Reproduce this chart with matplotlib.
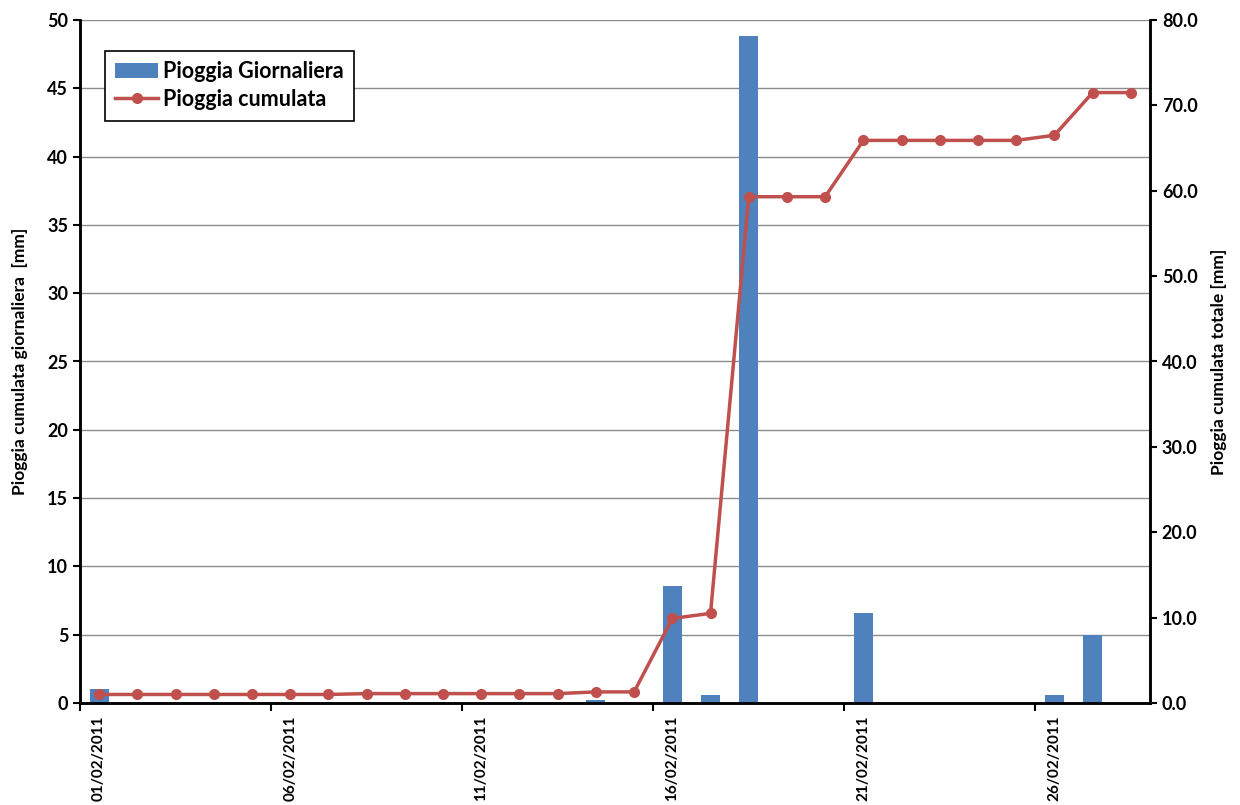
import matplotlib.pyplot as plt
import numpy as np

plt.rcParams['font.family'] = ['Lato', 'DejaVu Sans']
plt.rcParams['font.weight'] = 'bold'

giorni = ['%02d/02/2011' % d for d in range(1, 29)]
pioggia_giornaliera = [1.0, 0, 0, 0, 0, 0, 0, 0.1, 0, 0, 0, 0, 0, 0.2, 0,
                       8.6, 0.6, 48.8, 0, 0, 6.6, 0, 0, 0, 0, 0.6, 5.0, 0]
pioggia_cumulata = [1.0, 1.0, 1.0, 1.0, 1.0, 1.0, 1.0, 1.1, 1.1, 1.1, 1.1, 1.1, 1.1, 1.3, 1.3,
                    9.9, 10.5, 59.3, 59.3, 59.3, 65.9, 65.9, 65.9, 65.9, 65.9, 66.5, 71.5, 71.5]

blu = '#4F81BD'
rosso = '#C0504D'

fig = plt.figure(figsize=(12.4, 8.05), dpi=100)
ax = fig.add_axes([80 / 1240, 1 - 703 / 805, 1070 / 1240, 683 / 805])
x = np.arange(len(giorni))

b = ax.bar(x, pioggia_giornaliera, width=0.5, color=blu, zorder=2, label='Pioggia Giornaliera')
ax.set_ylim(0, 50)
ax.set_xlim(-0.5, len(giorni) - 0.5)
ax.set_yticks(np.arange(0, 51, 5))
ax.yaxis.grid(True, color='#8c8c8c', linewidth=1)
ax.set_axisbelow(True)
ax.set_ylabel('Pioggia cumulata giornaliera  [mm]', fontsize=12.5, fontweight='bold', labelpad=14)
ax.tick_params(axis='y', labelsize=13, width=1.5, length=5)

# tick marks on category boundaries, labels on the days
ax.set_xticks(np.arange(-0.5, len(giorni), 5))
ax.set_xticklabels([])
ax.tick_params(axis='x', width=1.5, length=6)
ax.set_xticks(x[::5], minor=True)
ax.set_xticklabels(giorni[::5], minor=True, rotation=90, fontsize=11, fontweight='bold')
ax.tick_params(axis='x', which='minor', length=0, pad=9)

ax2 = ax.twinx()
l, = ax2.plot(x, pioggia_cumulata, color=rosso, linewidth=2.5, marker='o', markersize=7,
              label='Pioggia cumulata', zorder=3)
ax2.set_ylim(0, 80)
ax2.set_yticks(np.arange(0, 81, 10))
ax2.set_yticklabels(['%.1f' % v for v in np.arange(0, 81, 10)])
ax2.tick_params(axis='y', labelsize=13, width=1.5, length=5)
ax2.set_ylabel('Pioggia cumulata totale [mm]', fontsize=12.5, fontweight='bold', labelpad=10)

for a in (ax, ax2):
    a.spines['top'].set_visible(False)
    for s in ('left', 'right', 'bottom'):
        a.spines[s].set_linewidth(1.8)
for t in ax.get_yticklabels() + ax2.get_yticklabels():
    t.set_fontweight('bold')

leg = ax.legend([b, l], ['Pioggia Giornaliera', 'Pioggia cumulata'], loc='upper left',
                bbox_to_anchor=(0.023, 0.955), fontsize=15.5, frameon=True, fancybox=False,
                edgecolor='black', framealpha=1, handlelength=2, borderpad=0.5,
                labelspacing=0.3, handletextpad=0.2, borderaxespad=0)
leg.get_frame().set_linewidth(1.2)
for t in leg.get_texts():
    t.set_fontweight('bold')

fig.savefig('out.png', dpi=100)
